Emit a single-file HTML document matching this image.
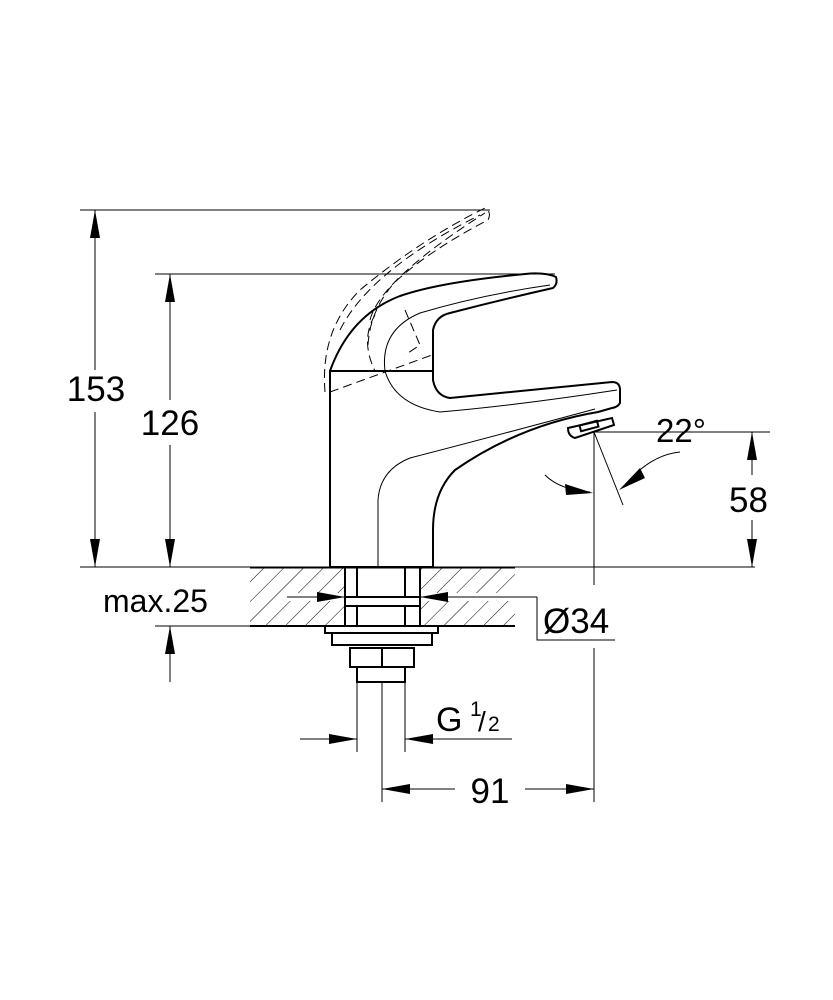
<!DOCTYPE html>
<html><head><style>body{margin:0;background:#fff}svg{display:block}text{font-family:"Liberation Sans",sans-serif;fill:#000}</style></head>
<body>
<svg width="833" height="1000" viewBox="0 0 833 1000" xmlns="http://www.w3.org/2000/svg">
<defs>
<pattern id="h" width="14" height="14" patternUnits="userSpaceOnUse" patternTransform="rotate(45)">
<line x1="0" y1="0" x2="0" y2="14" stroke="#000" stroke-width="1"/>
</pattern>
</defs>
<g stroke="#000" fill="none" stroke-width="1">
<rect x="250" y="567" width="95" height="59" fill="url(#h)" stroke="none"/>
<rect x="420" y="567" width="95" height="59" fill="url(#h)" stroke="none"/>
<rect x="290" y="593" width="55" height="8" fill="#fff" stroke="none"/>
<rect x="420" y="593" width="95" height="8" fill="#fff" stroke="none"/>
<line x1="80" y1="567" x2="755" y2="567"/>
<line x1="155" y1="626" x2="515" y2="626"/>
<line x1="250" y1="567.5" x2="515" y2="567.5" stroke-width="2"/>
<line x1="250" y1="626" x2="515" y2="626" stroke-width="2"/>
<line x1="80" y1="210" x2="490" y2="210"/>
<line x1="95" y1="210" x2="95" y2="370"/>
<line x1="95" y1="412" x2="95" y2="567"/>
<line x1="155" y1="274" x2="555" y2="274"/>
<line x1="170" y1="274" x2="170" y2="400"/>
<line x1="170" y1="445" x2="170" y2="567"/>
<line x1="170" y1="626" x2="170" y2="682"/>
<g stroke-width="2">
<path d="M330 567 L330 371 L433 371 L433 330 Q436 316 450 313 Q500 300 553 288 Q558 284 556 277 Q545 272 525 274 Q440 282 400 296 Q350 315 330 371"/>
<path d="M433 371 L433 380 Q436 396 450 398 L612 382 Q620 382 620 390 L620 403 Q618 407 612 408 L598 412 Q520 425 455 470 Q433 492 433 530 L433 567"/>
<path d="M568 428 L612 418 L614 425 L575 438 Q568 436 568 428Z"/>
<rect x="580" y="423" width="18" height="6" transform="rotate(-15 589 426)"/>
<line x1="330" y1="567" x2="433" y2="567"/>
</g>
<path d="M378 567 L378 500 Q380 470 410 458 Q480 440 595 409"/>
<path d="M385 371 Q380 330 420 313 Q480 295 550 285"/>
<path d="M385 371 Q395 405 440 412 Q520 405 617 390"/>
<g stroke-dasharray="9,5">
<path d="M325 392 Q320 330 360 290 Q420 240 485 208 Q492 212 488 220 Q430 250 395 282 Q370 310 368 345"/>
<path d="M330 392 L432 355"/>
<path d="M340 330 Q370 270 480 215"/>
<path d="M370 320 Q380 280 485 213"/>
<path d="M405 310 L420 345 L405 355"/>
<path d="M375 315 Q360 340 375 371"/>
</g>
<g stroke-width="2">
<rect x="345" y="567" width="75" height="59"/>
<line x1="357" y1="567" x2="357" y2="626"/>
<line x1="405" y1="567" x2="405" y2="626"/>
<rect x="345" y="597" width="75" height="9" fill="#fff"/>
<rect x="325" y="626" width="113" height="7"/>
<rect x="332" y="633" width="100" height="12"/>
<rect x="350" y="648" width="64" height="19"/>
<line x1="382" y1="648" x2="382" y2="667"/>
<rect x="357" y="667" width="48" height="15"/>
</g>
<line x1="357" y1="682" x2="357" y2="752"/>
<line x1="405" y1="682" x2="405" y2="752"/>
<line x1="382" y1="682" x2="382" y2="802"/>
<line x1="300" y1="739" x2="357" y2="739"/>
<line x1="405" y1="739" x2="512" y2="739"/>
<line x1="382" y1="789" x2="455" y2="789"/>
<line x1="525" y1="789" x2="594" y2="789"/>
<line x1="287" y1="597" x2="345" y2="597"/>
<line x1="420" y1="597" x2="537" y2="597"/>
<polyline points="537,597 537,640 615,640"/>
<line x1="594" y1="432" x2="594" y2="585"/>
<line x1="594" y1="648" x2="594" y2="802"/>
<line x1="594" y1="432" x2="770" y2="432"/>
<line x1="752" y1="432" x2="752" y2="475"/>
<line x1="752" y1="520" x2="752" y2="567"/>
<line x1="594" y1="432" x2="623" y2="505"/>
<path d="M545 475 Q560 490 590 492"/>
<path d="M680 452 Q650 455 625 485"/>
</g>
<g fill="#000" stroke="none">
<polygon points="95,210 90,238 100,238"/>
<polygon points="95,567 90,539 100,539"/>
<polygon points="170,274 165,302 175,302"/>
<polygon points="170,567 165,539 175,539"/>
<polygon points="170,626 165,654 175,654"/>
<polygon points="752,432 747,460 757,460"/>
<polygon points="752,567 747,539 757,539"/>
<polygon points="345,597 317,592 317,602"/>
<polygon points="420,597 448,592 448,602"/>
<polygon points="357,739 329,734 329,744"/>
<polygon points="405,739 433,734 433,744"/>
<polygon points="382,789 410,784 410,794"/>
<polygon points="594,789 566,784 566,794"/>
<polygon points="593,493 565,484 566,495"/>
<polygon points="619,490 640,468 645,478"/>
</g>
<text x="96" y="401" font-size="35" text-anchor="middle">153</text>
<text x="170" y="435" font-size="35" text-anchor="middle">126</text>
<text x="103" y="612" font-size="32">max.25</text>
<text x="543" y="633" font-size="35">Ø34</text>
<text x="656" y="442" font-size="33">22°</text>
<text x="729" y="512" font-size="35">58</text>
<text x="436" y="731" font-size="34">G</text>
<text x="470" y="716" font-size="21">1</text>
<text x="478" y="731" font-size="28">/</text>
<text x="488" y="731" font-size="21">2</text>
<text x="490" y="803" font-size="35" text-anchor="middle">91</text>
</svg>
</body></html>
